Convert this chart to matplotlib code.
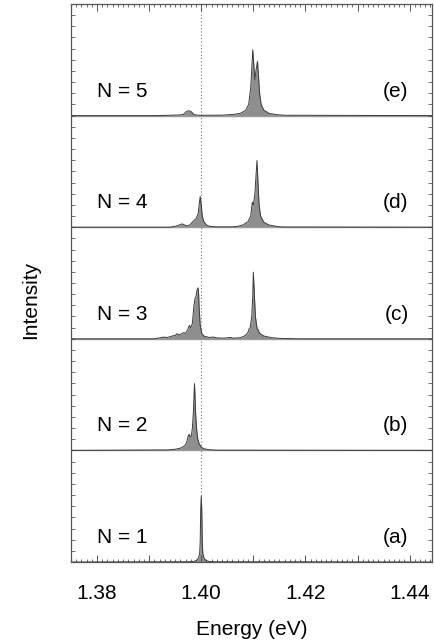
import numpy as np
import matplotlib
matplotlib.use("Agg")
import matplotlib.pyplot as plt
from matplotlib.ticker import MultipleLocator, FuncFormatter

plt.rcParams['font.family'] = ['Liberation Sans', 'DejaVu Sans']

# --- spectra (energy in eV, intensity in panel units) ---
E_N1 = [1.375, 1.3975, 1.3985, 1.3990, 1.3993, 1.3995, 1.3997, 1.3998, 1.3999,
        1.4000, 1.4001, 1.4002, 1.4003, 1.4005, 1.4007, 1.4010, 1.4015, 1.4025, 1.4445]
I_N1 = [0.0, 0.002, 0.005, 0.012, 0.022, 0.04, 0.08, 0.18, 0.47,
        0.59, 0.47, 0.18, 0.08, 0.04, 0.022, 0.012, 0.005, 0.002, 0.0]

E_N2 = [1.375, 1.3935, 1.3950, 1.3960, 1.3968, 1.3972, 1.3975, 1.3977, 1.3979,
        1.3981, 1.3983, 1.3985, 1.3986, 1.3987, 1.3988, 1.3989, 1.3991, 1.3993,
        1.3996, 1.4000, 1.4005, 1.4015, 1.4030, 1.4445]
I_N2 = [0.0, 0.004, 0.01, 0.02, 0.04, 0.07, 0.13, 0.145, 0.12,
        0.13, 0.2, 0.35, 0.48, 0.597, 0.5, 0.35, 0.2, 0.11,
        0.06, 0.03, 0.015, 0.006, 0.002, 0.0]

E_N3 = [1.375, 1.3908, 1.3920, 1.3928, 1.3935, 1.3944, 1.3950, 1.3953, 1.3958,
        1.3962, 1.3966, 1.3970, 1.3974, 1.3977, 1.3980, 1.3983, 1.3986, 1.3988,
        1.3990, 1.3992, 1.3994, 1.3995, 1.3996, 1.3998, 1.4001, 1.4005, 1.4015,
        1.4023, 1.4030, 1.4045, 1.4055, 1.4062, 1.4075, 1.4085, 1.4090, 1.4092,
        1.4094, 1.4097, 1.4099, 1.4100, 1.4102, 1.4104, 1.4107, 1.4112, 1.4120,
        1.4135, 1.4150, 1.4187, 1.4445]
I_N3 = [0.0, 0.0, 0.008, 0.015, 0.012, 0.025, 0.03, 0.045, 0.035,
        0.045, 0.055, 0.05, 0.08, 0.12, 0.1, 0.14, 0.3, 0.36,
        0.38, 0.44, 0.457, 0.4, 0.28, 0.12, 0.05, 0.025, 0.012,
        0.016, 0.008, 0.006, 0.012, 0.006, 0.01, 0.03, 0.06, 0.09,
        0.1, 0.2, 0.4, 0.597, 0.4, 0.2, 0.1, 0.05, 0.025,
        0.01, 0.004, 0.0, 0.0]

E_N4 = [1.375, 1.3940, 1.3950, 1.3958, 1.3963, 1.3968, 1.3973, 1.3978, 1.3983,
        1.3986, 1.3990, 1.3994, 1.3996, 1.3998, 1.4000, 1.4002, 1.4005, 1.4010,
        1.4016, 1.4030, 1.4060, 1.4070, 1.4080, 1.4090, 1.4095, 1.4098, 1.4100,
        1.4103, 1.4105, 1.4107, 1.4109, 1.4111, 1.4114, 1.4120, 1.4130, 1.4145,
        1.4155, 1.4445]
I_N4 = [0.0, 0.0, 0.008, 0.02, 0.03, 0.02, 0.012, 0.02, 0.045,
        0.06, 0.075, 0.12, 0.2, 0.275, 0.2, 0.1, 0.05, 0.02,
        0.008, 0.003, 0.003, 0.008, 0.02, 0.05, 0.1, 0.224, 0.2,
        0.3, 0.45, 0.597, 0.4, 0.2, 0.1, 0.045, 0.02, 0.007,
        0.002, 0.0]

E_N5 = [1.375, 1.3915, 1.3940, 1.3960, 1.3966, 1.3970, 1.3973, 1.3976, 1.3979,
        1.3982, 1.3985, 1.3990, 1.4000, 1.4040, 1.4060, 1.4075, 1.4085, 1.4091,
        1.4095, 1.4097, 1.4099, 1.4101, 1.4103, 1.4105, 1.4108, 1.4110, 1.4112,
        1.4115, 1.4120, 1.4130, 1.4145, 1.4160, 1.4445]
I_N5 = [0.0, 0.0, 0.003, 0.006, 0.012, 0.03, 0.04, 0.042, 0.04,
        0.03, 0.012, 0.005, 0.003, 0.004, 0.01, 0.02, 0.045, 0.1,
        0.25, 0.42, 0.59, 0.45, 0.32, 0.4, 0.487, 0.35, 0.2,
        0.1, 0.05, 0.02, 0.008, 0.003, 0.0]

spectra = [(E_N1, I_N1), (E_N2, I_N2), (E_N3, I_N3), (E_N4, I_N4), (E_N5, I_N5)]
n_labels = ["N = 1", "N = 2", "N = 3", "N = 4", "N = 5"]
panel_labels = ["(a)", "(b)", "(c)", "(d)", "(e)"]

fig = plt.figure(figsize=(4.35, 6.41), dpi=100)
ax = fig.add_axes([71 / 435, 79 / 641, 361 / 435, 558 / 641])

for i, (e, inten) in enumerate(spectra):
    e = np.array(e)
    y = np.array(inten) + i
    ax.fill_between(e, i, y, color='#8e8e8e', lw=0)
    ax.plot(e, y, color='#3a3a3a', lw=0.7)
    if i > 0:
        ax.axhline(i, color='#9a9a9a', lw=1.0, zorder=1)
    ax.text(1.3800, i + 0.22, n_labels[i], fontsize=15, ha='left', va='center')
    ax.text(1.4398, i + 0.22, panel_labels[i], fontsize=15, ha='right', va='center')

ax.axvline(1.400, color='#777777', lw=0.8, ls=(0, (1, 2)), zorder=0)

ax.set_xlim(1.375, 1.4443)
ax.set_ylim(0, 5)

ax.xaxis.set_major_locator(MultipleLocator(0.01))
ax.xaxis.set_minor_locator(MultipleLocator(0.001))
ax.xaxis.set_major_formatter(FuncFormatter(
    lambda v, p: f"{v:.2f}" if round(v * 100) % 2 == 0 else ""))
ax.set_yticks(np.arange(0, 5.01, 0.1))
ax.set_yticklabels([])

ax.tick_params(axis='x', which='major', direction='in', top=True, length=5,
               width=0.7, color='#555555', labelsize=15, pad=16)
ax.tick_params(axis='x', which='minor', direction='in', top=True, length=2.5,
               width=0.6, color='#555555')
ax.tick_params(axis='y', direction='in', right=True, length=3, width=0.6,
               color='#555555')
for s in ax.spines.values():
    s.set_color('#555555')
    s.set_linewidth(0.9)

ax.set_xlabel("Energy (eV)", fontsize=15, labelpad=12)
ax.set_ylabel("Intensity", fontsize=15)
ax.yaxis.set_label_coords(-0.085, 0.47)

fig.savefig("out.png", dpi=100)
